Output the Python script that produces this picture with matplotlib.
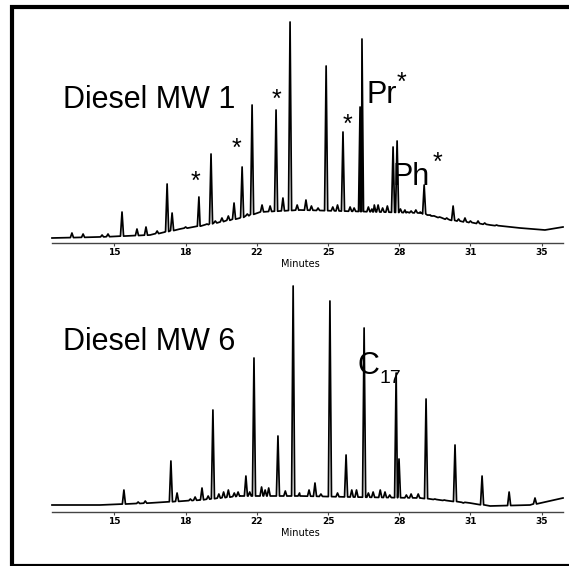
import numpy as np
import matplotlib
matplotlib.use('Agg')
import matplotlib.pyplot as plt
from matplotlib.patches import Rectangle

# x tick positions (minutes) and the labels as printed on the scan
tick_pos = [16, 19, 22, 25, 28, 31, 34]
tick_labels = ['15', '18', '22', '25', '28', '31', '35']

# Diesel MW 1 - baseline (minutes, response)
mw1_base_t = [13.37, 15.39, 17.50, 18.13, 18.76, 19.61, 20.45, 21.29, 22.13,
              23.82, 25.51, 27.19, 28.88, 30.14, 31.83, 33.09, 34.14, 34.90]
mw1_base_s = [5, 6, 8, 11, 14, 17, 21, 25, 31, 33, 32, 31, 30, 23, 18, 15, 13, 16]

# Diesel MW 1 - peaks (retention time, apex response)
mw1_peak_t = [14.21, 14.68, 15.48, 15.73, 16.32, 16.95, 17.33, 17.80, 18.22,
              18.43, 19.00, 19.56, 19.90, 20.07, 20.25, 20.53, 20.80, 21.04,
              21.38, 21.60, 21.80, 22.22, 22.56, 22.81, 23.10, 23.40, 23.70,
              24.07, 24.30, 24.58, 24.92, 25.20, 25.40, 25.63, 25.93, 26.10,
              26.35, 26.43, 26.70, 26.85, 26.95, 27.11, 27.30, 27.50, 27.74,
              27.91, 28.05, 28.24, 28.35, 28.50, 28.70, 28.88, 29.05, 29.25,
              29.40, 29.70, 30.00, 30.27, 30.50, 30.77, 31.00, 31.32, 31.60,
              32.10]
mw1_peak_s = [10, 9, 8, 9, 31, 14, 16, 12, 59,
              30, 16, 46, 19, 89, 22, 25, 27, 40,
              76, 29, 138, 38, 37, 133, 45, 221, 38,
              43, 37, 35, 177, 36, 38, 111, 36, 35,
              136, 204, 36, 34, 38, 38, 35, 37, 96,
              102, 34, 33, 31, 32, 33, 31, 58, 28,
              27, 26, 25, 37, 24, 25, 22, 22, 20,
              18]

# Diesel MW 6 - baseline
mw6_base_t = [13.37, 15.39, 17.50, 19.61, 21.29, 23.82, 25.93, 28.88, 30.98,
              31.83, 33.51, 34.90]
mw6_base_s = [7, 7, 9, 12, 16, 16, 15, 14, 9, 6, 7, 14]

# Diesel MW 6 - peaks
mw6_peak_t = [16.40, 17.00, 17.30, 18.38, 18.64, 19.20, 19.40, 19.69, 19.95,
              20.15, 20.40, 20.60, 20.80, 21.05, 21.21, 21.54, 21.70, 21.88,
              22.20, 22.35, 22.50, 22.89, 23.20, 23.53, 23.80, 24.20, 24.45,
              24.70, 25.08, 25.40, 25.76, 26.00, 26.20, 26.52, 26.70, 26.90,
              27.20, 27.40, 27.60, 27.87, 27.99, 28.30, 28.50, 28.80, 29.13,
              29.50, 29.90, 30.35, 30.70, 31.49, 32.63, 33.72]
mw6_peak_s = [22, 10, 11, 51, 19, 13, 15, 24, 16,
              102, 18, 20, 22, 19, 20, 36, 20, 154,
              25, 22, 24, 76, 21, 226, 19, 22, 29,
              18, 211, 19, 57, 22, 22, 184, 19, 20,
              22, 20, 17, 139, 53, 17, 18, 18, 113,
              13, 12, 67, 9, 36, 20, 14]

# asterisk marks on MW 1 (minutes, response)
star_t = [19.40, 21.16, 22.81, 25.80]
star_s = [61, 94, 143, 118]

plt.rcParams['font.family'] = ['Liberation Sans', 'DejaVu Sans']

fig = plt.figure(figsize=(5.69, 5.66), dpi=100)


def trace(base_t, base_s, peak_t, peak_s):
    pts = list(zip(base_t, base_s))
    w = 0.065
    for t, s in zip(peak_t, peak_s):
        b = np.interp(t, base_t, base_s)
        pts += [(t - w, b), (t, s), (t + w, b)]
    pts.sort(key=lambda p: p[0])
    return [p[0] for p in pts], [p[1] for p in pts]


def style_axis(ax, ytop):
    ax.set_xlim(13.37, 34.90)
    ax.set_ylim(0, ytop)
    for side in ['top', 'left', 'right']:
        ax.spines[side].set_visible(False)
    ax.spines['bottom'].set_color('#444444')
    ax.spines['bottom'].set_linewidth(1.0)
    ax.set_yticks([])
    ax.set_xticks(tick_pos)
    ax.set_xticklabels(tick_labels, fontsize=6.5, fontweight='bold',
                       family='DejaVu Sans')
    ax.tick_params(axis='x', length=2, width=0.8, color='#444444', pad=1.5)
    ax.annotate('Minutes', xy=(23.85, 0), xycoords=('data', 'axes fraction'),
                xytext=(0, -15), textcoords='offset points',
                ha='center', va='center', fontsize=7, family='DejaVu Sans')
    ax.patch.set_alpha(0)


# top chromatogram
ax1 = fig.add_axes([52 / 569, 323 / 566, 511 / 569, 231 / 566])
x, y = trace(mw1_base_t, mw1_base_s, mw1_peak_t, mw1_peak_s)
ax1.plot(x, y, color='black', lw=1.25, clip_on=False)
style_axis(ax1, 231)
ax1.text(13.83, 135, 'Diesel MW 1', fontsize=22, ha='left', va='baseline')
for t, s in zip(star_t, star_s):
    ax1.text(t, s, '*', fontsize=18, ha='center', va='center')
ax1.text(26.64, 140, 'Pr', fontsize=22, ha='left', va='baseline')
ax1.text(28.10, 160, '*', fontsize=18, ha='center', va='center')
ax1.text(27.70, 58, 'Ph', fontsize=22, ha='left', va='baseline')
ax1.text(29.60, 80, '*', fontsize=18, ha='center', va='center')

# bottom chromatogram
ax2 = fig.add_axes([52 / 569, 54 / 566, 511 / 569, 230 / 566])
x, y = trace(mw6_base_t, mw6_base_s, mw6_peak_t, mw6_peak_s)
ax2.plot(x, y, color='black', lw=1.25, clip_on=False)
style_axis(ax2, 230)
ax2.text(13.83, 162, 'Diesel MW 6', fontsize=22, ha='left', va='baseline')
ax2.text(26.26, 138, 'C', fontsize=22, ha='left', va='baseline')
ax2.text(27.15, 129, '17', fontsize=14, ha='left', va='baseline')

# frame around the figure
fig.add_artist(Rectangle((12 / 569, 0.0), 1.2, 0.9885, transform=fig.transFigure,
                         fill=False, ec='black', lw=3))

plt.savefig('out.png', dpi=100)
